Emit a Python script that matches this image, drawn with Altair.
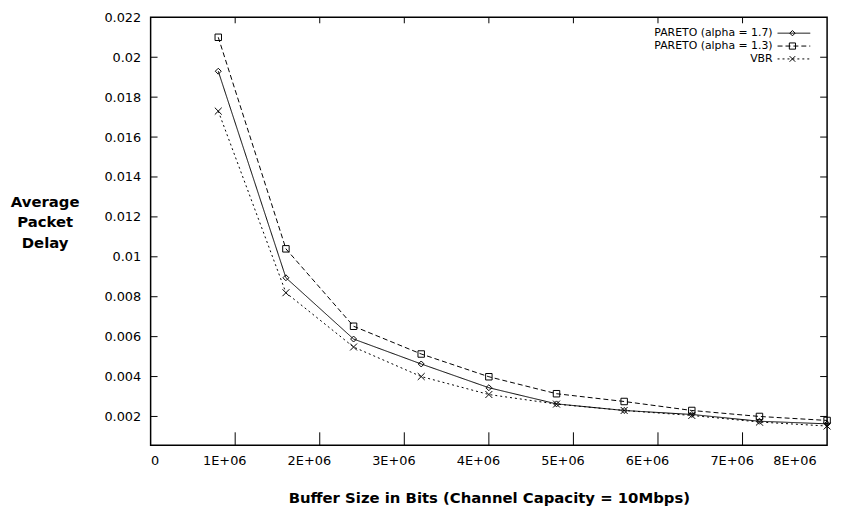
import altair as alt
import pandas as pd

# ---- data ----
buffer_bits = [800000, 1600000, 2400000, 3200000, 4000000,
               4800000, 5600000, 6400000, 7200000, 8000000]
pareto_17 = [0.0193, 0.00895, 0.00588, 0.00463, 0.00344,
             0.00263, 0.0023, 0.0021, 0.00176, 0.00163]
pareto_13 = [0.0210, 0.0104, 0.00652, 0.00513, 0.00399,
             0.00314, 0.00275, 0.0023, 0.0020, 0.0018]
vbr = [0.0173, 0.0082, 0.00548, 0.0040, 0.0031,
       0.00262, 0.0023, 0.00205, 0.00172, 0.00152]
series_names = ["PARETO (alpha = 1.7)", "PARETO (alpha = 1.3)", "VBR"]

x_tick_values = [0, 1000000, 2000000, 3000000, 4000000, 5000000, 6000000, 7000000, 8000000]
y_tick_values = [0.002, 0.004, 0.006, 0.008, 0.01, 0.012, 0.014, 0.016, 0.018, 0.02, 0.022]

# ---- styling ----
W, H = 683, 432
FONT = "DejaVu Sans"
dashes = [[1, 0], [5, 3], [2, 3]]
xpath = "M-1,-1L1,1M1,-1L-1,1"
shapes = ["diamond", "square", xpath]
sizes = [36, 49, 40]

rows = []
for name, vals in zip(series_names, [pareto_17, pareto_13, vbr]):
    for xb, v in zip(buffer_bits, vals):
        rows.append({"series": name, "bits": xb, "delay": v})
df = pd.DataFrame(rows)

xscale = alt.Scale(domain=[0, 8000000], nice=False, zero=False)
yscale = alt.Scale(domain=[0.00056, 0.022], nice=False, zero=False)

X_TITLE = "Buffer Size in Bits (Channel Capacity = 10Mbps)"
Y_TITLE = ["Average", "Packet", "Delay"]

x_axis = alt.Axis(
    values=x_tick_values, ticks=False, domain=False, grid=False,
    labelExpr="datum.value == 0 ? '0' : format(datum.value / 1000000, 'd') + 'E+06'",
    labelFontSize=13, labelPadding=9, labelColor="black", labelFont=FONT,
    labelOffset={"condition": {"test": "datum.value == 0", "value": 0}, "value": -11},
    title=X_TITLE,
    titleFontSize=15, titleFontWeight="bold", titleColor="black", titleFont=FONT,
    titleY=53, titleBaseline="middle",
)
y_axis = alt.Axis(
    values=y_tick_values, ticks=False, domain=False, grid=False, format="~g",
    labelFontSize=13, labelPadding=10, labelColor="black", labelFont=FONT,
    title=Y_TITLE, titleAngle=0,
    titleFontSize=15, titleFontWeight="bold", titleColor="black", titleFont=FONT,
    titleX=-107, titleY=179, titleAlign="center", titleBaseline="top",
    titleLineHeight=20.5,
)

color_enc = alt.Color("series:N", scale=alt.Scale(domain=series_names,
                      range=["black"] * 3), legend=None)

xenc = alt.X("bits:Q", scale=xscale, axis=x_axis, title=X_TITLE)
yenc = alt.Y("delay:Q", scale=yscale, axis=y_axis, title=Y_TITLE)

lines = alt.Chart(df).mark_line(strokeWidth=1).encode(
    x=xenc, y=yenc,
    detail="series:N",
    strokeDash=alt.StrokeDash("series:N", scale=alt.Scale(domain=series_names, range=dashes), legend=None),
    color=color_enc,
)

points = alt.Chart(df).mark_point(filled=False, strokeWidth=1, opacity=1).encode(
    x=xenc, y=yenc,
    shape=alt.Shape("series:N", scale=alt.Scale(domain=series_names, range=shapes), legend=None),
    size=alt.Size("series:N", scale=alt.Scale(domain=series_names, range=sizes), legend=None),
    color=color_enc,
)

# inward ticks (gnuplot style)
xt = pd.DataFrame({"bits": x_tick_values[1:-1]})
yt = pd.DataFrame({"delay": y_tick_values[:-1]})
tick_bottom = alt.Chart(xt).mark_rule(color="black", strokeWidth=1).encode(
    x=xenc, y=alt.value(H - 13), y2=alt.value(H))
tick_top = alt.Chart(xt).mark_rule(color="black", strokeWidth=1).encode(
    x=xenc, y=alt.value(0), y2=alt.value(6))
tick_left = alt.Chart(yt).mark_rule(color="black", strokeWidth=1).encode(
    y=yenc, x=alt.value(0), x2=alt.value(7))
tick_right = alt.Chart(yt).mark_rule(color="black", strokeWidth=1).encode(
    y=yenc, x=alt.value(W - 7), x2=alt.value(W))

# custom legend (top right, inside the frame)
leg_df = pd.DataFrame({"series": series_names})
row_y = [16, 29, 42]
legend_layers = []
for i, name in enumerate(series_names):
    base = alt.Chart(leg_df).transform_filter(alt.datum.series == name)
    legend_layers.append(base.mark_text(align="right", baseline="middle", fontSize=11,
                                        font=FONT, color="black", fill="black").encode(
        text="series:N", x=alt.value(628), y=alt.value(row_y[i])))
    legend_layers.append(base.mark_rule(color="black", strokeWidth=1,
                                        strokeDash=dashes[i]).encode(
        x=alt.value(633), x2=alt.value(666), y=alt.value(row_y[i])))
    legend_layers.append(base.mark_point(filled=False, color="black", strokeWidth=1, opacity=1,
                                         shape=shapes[i], size=sizes[i] * 0.8).encode(
        x=alt.value(648), y=alt.value(row_y[i])))

chart = alt.layer(lines, points, tick_bottom, tick_top, tick_left, tick_right,
                  *legend_layers).properties(
    width=W, height=H,
    autosize=alt.AutoSizeParams(type="none"),
    padding={"left": 144, "top": 7, "right": 10, "bottom": 62},
    background="white",
).configure_view(stroke="black", strokeWidth=1.5)

chart.save("out.html", embed_options={"renderer": "svg", "actions": False})
